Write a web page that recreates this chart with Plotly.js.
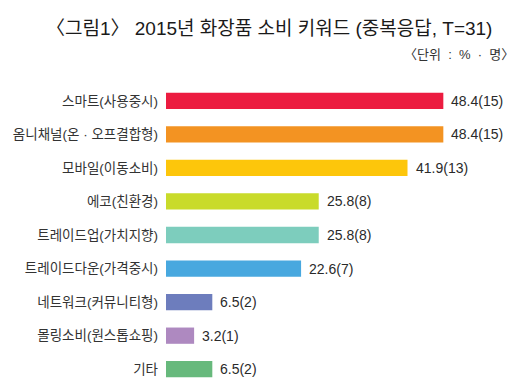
<!DOCTYPE html>
<html>
<head>
<meta charset="utf-8">
<script src="https://cdn.plot.ly/plotly-3.0.1.min.js"></script>
<style>
html,body{margin:0;padding:0;background:#fff;}
#chart{width:531px;height:387px;}
</style>
</head>
<body>
<div id="chart"></div>
<script>
const categories = [
  '스마트(사용중시)',
  '옴니채널(온 · 오프결합형)',
  '모바일(이동소비)',
  '에코(친환경)',
  '트레이드업(가치지향)',
  '트레이드다운(가격중시)',
  '네트워크(커뮤니티형)',
  '몰링소비(원스톱쇼핑)',
  '기타'
];
const percents = [48.4, 48.4, 41.9, 25.8, 25.8, 22.6, 6.5, 3.2, 6.5];
const counts = [15, 15, 13, 8, 8, 7, 2, 1, 2];
const colors = ['#EC1C40', '#F39322', '#FDC60B', '#C9DB2A', '#7DCDBD', '#48A8DF', '#6D7DBD', '#AE89C0', '#67B97C'];

const AXIS_START = -1.9;
const FONT = 'Liberation Sans, Arial, "Noto Sans CJK KR", sans-serif';

const labels = percents.map((v, i) => v.toFixed(1) + '(' + counts[i] + ')');

const trace = {
  type: 'bar',
  orientation: 'h',
  y: categories,
  x: percents.map(v => v - AXIS_START),
  base: AXIS_START,
  width: 0.485,
  marker: {color: colors, line: {width: 0}},
  hoverinfo: 'skip'
};

const annotations = percents.map((v, i) => ({
  x: v, y: categories[i], xref: 'x', yref: 'y',
  text: labels[i], showarrow: false,
  xanchor: 'left', yanchor: 'middle', xshift: 6,
  font: {family: FONT, size: 14, color: '#2a2a2a'}
}));

annotations.push({
  x: 0.934, y: 1.099, xref: 'paper', yref: 'paper', xshift: 9,
  text: '〈단위\u00a0\u00a0:\u00a0\u00a0%\u00a0\u00a0·\u00a0\u00a0명〉', showarrow: false,
  xanchor: 'right', yanchor: 'middle',
  font: {family: FONT, size: 13, color: '#333'}
});

const layout = {
  width: 531, height: 387,
  margin: {l: 166, r: 0, t: 83.5, b: 1, pad: 0},
  paper_bgcolor: '#fff', plot_bgcolor: '#fff',
  showlegend: false,
  title: {
    text: '〈그림1〉 2015년 화장품 소비 키워드 (중복응답, T=31)',
    x: 0.507, xanchor: 'center', xref: 'container',
    y: 0.926, yanchor: 'middle', yref: 'container',
    font: {family: FONT, size: 19, color: '#1a1a1a'}
  },
  xaxis: {
    range: [AXIS_START, 64.3],
    visible: false, showgrid: false, zeroline: false, fixedrange: true
  },
  yaxis: {
    type: 'category',
    range: [8.5, -0.5],
    showgrid: false, zeroline: false, showline: false,
    ticks: '', ticklabelstandoff: 7,
    tickfont: {family: FONT, size: 13.5, color: '#333'},
    fixedrange: true
  },
  annotations: annotations
};

Plotly.newPlot('chart', [trace], layout, {displayModeBar: false, staticPlot: true});
</script>
</body>
</html>
